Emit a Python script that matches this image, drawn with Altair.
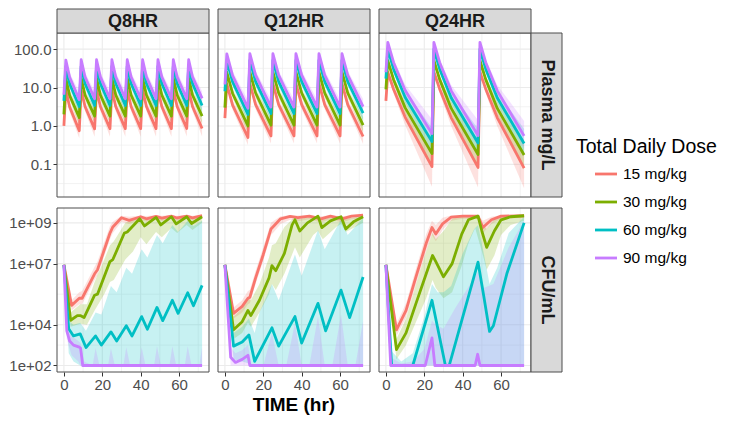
import altair as alt
import pandas as pd

FONT = "Liberation Sans"
DOSES = ["15 mg/kg", "30 mg/kg", "60 mg/kg", "90 mg/kg"]
COLORS = ["#F8766D", "#7CAE00", "#00BFC4", "#C77CFF"]
REGIMENS = ["Q8HR", "Q12HR", "Q24HR"]
ROW_LABELS = ["Plasma mg/L", "CFU/mL"]
X_TITLE = "TIME (hr)"
LEGEND_TITLE = "Total Daily Dose"

X_DOMAIN = [-3.6, 75.6]
X_BREAKS = [0, 20, 40, 60]
X_MINOR = [10, 30, 50, 70]
PK_DOMAIN = [0.0141, 263.0]
PK_BREAKS = [0.1, 1, 10, 100]
PK_MINOR = [0.0316, 0.316, 3.16, 31.6]
CFU_DOMAIN_LOG10 = [1.68, 9.73]
CFU_BREAKS_LOG10 = [2, 4, 7, 9]
CFU_MINOR_LOG10 = [3, 5.5, 8]

# ---------------- Plasma concentrations (mg/L) ----------------
PK_T_Q8 = [0, 1, 3, 8, 9, 11, 16, 17, 19, 24, 25, 27, 32, 33, 35, 40, 41, 43,
           48, 49, 51, 56, 57, 59, 64, 65, 67, 72]
PK_Q8_15 = [1.0, 8.7, 3.1, 0.75, 8.8, 3.2, 0.84, 8.8, 3.2, 0.85, 8.8, 3.2, 0.85, 8.8, 3.2, 0.85,
            8.8, 3.2, 0.85, 8.8, 3.2, 0.85, 8.8, 3.2, 0.86, 8.8, 3.2, 0.86]
PK_Q8_15_LO = [0.9, 7.4, 2.3, 0.48, 7.5, 2.4, 0.52, 7.5, 2.4, 0.52, 7.5, 2.4, 0.52, 7.5, 2.4, 0.52,
               7.5, 2.4, 0.52, 7.5, 2.4, 0.52, 7.5, 2.4, 0.53, 7.5, 2.4, 0.53]
PK_Q8_15_HI = [1.1, 10.2, 4.0, 1.3, 10.3, 4.1, 1.4, 10.3, 4.1, 1.4, 10.3, 4.1, 1.4, 10.3, 4.1, 1.4,
               10.3, 4.1, 1.4, 10.3, 4.1, 1.4, 10.3, 4.1, 1.4, 10.3, 4.1, 1.4]
PK_Q8_30 = [2.0, 17.3, 6.2, 1.65, 17.6, 6.4, 1.8, 17.6, 6.4, 1.8, 17.6, 6.4, 1.8, 17.6, 6.4, 1.8,
            17.6, 6.4, 1.8, 17.6, 6.4, 1.8, 17.6, 6.4, 1.8, 17.6, 6.4, 1.8]
PK_Q8_30_LO = [1.8, 14.8, 4.7, 1.05, 15.0, 4.8, 1.15, 15.0, 4.8, 1.15, 15.0, 4.8, 1.15, 15.0, 4.8, 1.15,
               15.0, 4.8, 1.15, 15.0, 4.8, 1.15, 15.0, 4.8, 1.15, 15.0, 4.8, 1.15]
PK_Q8_30_HI = [2.2, 20.3, 8.2, 2.7, 20.6, 8.4, 2.9, 20.6, 8.4, 2.9, 20.6, 8.4, 2.9, 20.6, 8.4, 2.9,
               20.6, 8.4, 2.9, 20.6, 8.4, 2.9, 20.6, 8.4, 2.9, 20.6, 8.4, 2.9]
PK_Q8_60 = [4.5, 35.0, 12.4, 3.2, 35.5, 12.7, 3.4, 35.5, 12.7, 3.4, 35.5, 12.7, 3.4, 35.5, 12.7, 3.4,
            35.5, 12.7, 3.4, 35.5, 12.7, 3.4, 35.5, 12.7, 3.4, 35.5, 12.7, 3.4]
PK_Q8_60_LO = [4.0, 30.0, 9.4, 2.1, 30.5, 9.6, 2.2, 30.5, 9.6, 2.2, 30.5, 9.6, 2.2, 30.5, 9.6, 2.2,
               30.5, 9.6, 2.2, 30.5, 9.6, 2.2, 30.5, 9.6, 2.2, 30.5, 9.6, 2.2]
PK_Q8_60_HI = [5.0, 41.0, 16.0, 5.0, 41.5, 16.4, 5.3, 41.5, 16.4, 5.3, 41.5, 16.4, 5.3, 41.5, 16.4, 5.3,
               41.5, 16.4, 5.3, 41.5, 16.4, 5.3, 41.5, 16.4, 5.3, 41.5, 16.4, 5.3]
PK_Q8_90 = [6.5, 52.0, 18.5, 4.8, 53.0, 19.0, 5.1, 53.0, 19.0, 5.1, 53.0, 19.0, 5.1, 53.0, 19.0, 5.1,
            53.0, 19.0, 5.1, 53.0, 19.0, 5.1, 53.0, 19.0, 5.1, 53.0, 19.0, 5.2]
PK_Q8_90_LO = [5.8, 45.0, 14.0, 3.1, 46.0, 14.4, 3.3, 46.0, 14.4, 3.3, 46.0, 14.4, 3.3, 46.0, 14.4, 3.3,
               46.0, 14.4, 3.3, 46.0, 14.4, 3.3, 46.0, 14.4, 3.3, 46.0, 14.4, 3.3]
PK_Q8_90_HI = [7.2, 60.0, 24.0, 7.6, 61.0, 24.5, 8.0, 61.0, 24.5, 8.0, 61.0, 24.5, 8.0, 61.0, 24.5, 8.0,
               61.0, 24.5, 8.0, 61.0, 24.5, 8.0, 61.0, 24.5, 8.0, 61.0, 24.5, 8.0]

PK_T_Q12 = [0, 1, 4, 12, 13, 16, 24, 25, 28, 36, 37, 40, 48, 49, 52, 60, 61, 64, 72]
PK_Q12_15 = [1.6, 12.5, 3.5, 0.5, 12.8, 3.6, 0.55, 12.8, 3.6, 0.55, 12.8, 3.6, 0.55, 12.8, 3.6, 0.55, 12.8, 3.6, 0.53]
PK_Q12_15_LO = [1.4, 10.6, 2.6, 0.32, 10.9, 2.7, 0.35, 10.9, 2.7, 0.35, 10.9, 2.7, 0.35, 10.9, 2.7, 0.35, 10.9, 2.7, 0.34]
PK_Q12_15_HI = [1.8, 14.5, 4.6, 0.85, 14.8, 4.7, 0.9, 14.8, 4.7, 0.9, 14.8, 4.7, 0.9, 14.8, 4.7, 0.9, 14.8, 4.7, 0.88]
PK_Q12_30 = [3.0, 25.0, 7.0, 1.0, 25.5, 7.2, 1.05, 25.5, 7.2, 1.05, 25.5, 7.2, 1.05, 25.5, 7.2, 1.05, 25.5, 7.2, 1.05]
PK_Q12_30_LO = [2.7, 21.5, 5.3, 0.65, 22.0, 5.4, 0.68, 22.0, 5.4, 0.68, 22.0, 5.4, 0.68, 22.0, 5.4, 0.68, 22.0, 5.4, 0.68]
PK_Q12_30_HI = [3.3, 29.0, 9.2, 1.6, 29.5, 9.4, 1.7, 29.5, 9.4, 1.7, 29.5, 9.4, 1.7, 29.5, 9.4, 1.7, 29.5, 9.4, 1.7]
PK_Q12_60 = [8.0, 50.0, 14.0, 2.0, 51.0, 14.3, 2.1, 51.0, 14.3, 2.1, 51.0, 14.3, 2.1, 51.0, 14.3, 2.1, 51.0, 14.3, 2.15]
PK_Q12_60_LO = [7.2, 43.0, 10.6, 1.3, 44.0, 10.8, 1.35, 44.0, 10.8, 1.35, 44.0, 10.8, 1.35, 44.0, 10.8, 1.35, 44.0, 10.8, 1.38]
PK_Q12_60_HI = [8.8, 58.0, 18.5, 3.2, 59.0, 18.8, 3.35, 59.0, 18.8, 3.35, 59.0, 18.8, 3.35, 59.0, 18.8, 3.35, 59.0, 18.8, 3.4]
PK_Q12_90 = [12.0, 75.0, 20.5, 2.9, 76.0, 21.0, 3.1, 76.0, 21.0, 3.1, 76.0, 21.0, 3.1, 76.0, 21.0, 3.1, 76.0, 21.0, 3.2]
PK_Q12_90_LO = [10.8, 65.0, 15.5, 1.9, 66.0, 16.0, 2.0, 66.0, 16.0, 2.0, 66.0, 16.0, 2.0, 66.0, 16.0, 2.0, 66.0, 16.0, 2.05]
PK_Q12_90_HI = [13.2, 87.0, 27.0, 4.6, 88.0, 27.5, 4.9, 88.0, 27.5, 4.9, 88.0, 27.5, 4.9, 88.0, 27.5, 4.9, 88.0, 27.5, 5.0]

PK_T_Q24 = [0, 1, 4, 10, 24, 25, 28, 34, 48, 49, 52, 58, 72]
PK_Q24_15 = [4.5, 25.0, 9.0, 1.7, 0.087, 25.5, 9.2, 1.65, 0.083, 25.5, 9.2, 1.65, 0.08]
PK_Q24_15_LO = [4.0, 21.0, 7.0, 1.05, 0.026, 21.5, 7.2, 1.0, 0.025, 21.5, 7.2, 1.0, 0.024]
PK_Q24_15_HI = [5.0, 29.0, 11.5, 2.6, 0.22, 29.5, 11.7, 2.55, 0.21, 29.5, 11.7, 2.55, 0.2]
PK_Q24_30 = [9.0, 50.0, 16.0, 3.0, 0.19, 50.5, 16.3, 2.9, 0.18, 50.5, 16.3, 2.9, 0.175]
PK_Q24_30_LO = [8.1, 43.0, 12.5, 2.0, 0.08, 43.5, 12.8, 1.95, 0.075, 43.5, 12.8, 1.95, 0.072]
PK_Q24_30_HI = [9.9, 57.0, 20.0, 4.5, 0.45, 57.5, 20.4, 4.4, 0.43, 57.5, 20.4, 4.4, 0.42]
PK_Q24_60 = [17.0, 100.0, 30.0, 5.6, 0.39, 100.0, 30.5, 5.4, 0.36, 100.0, 30.5, 5.4, 0.35]
PK_Q24_60_LO = [15.3, 88.0, 24.0, 4.0, 0.18, 88.0, 24.4, 3.8, 0.17, 88.0, 24.4, 3.8, 0.165]
PK_Q24_60_HI = [18.7, 112.0, 37.0, 8.0, 0.9, 112.0, 37.5, 7.7, 0.85, 112.0, 37.5, 7.7, 0.83]
PK_Q24_90 = [25.0, 150.0, 45.0, 8.5, 0.63, 150.0, 45.0, 8.3, 0.56, 150.0, 45.0, 8.3, 0.55]
PK_Q24_90_LO = [22.5, 135.0, 37.0, 6.0, 0.3, 135.0, 37.0, 5.8, 0.27, 135.0, 37.0, 5.8, 0.26]
PK_Q24_90_HI = [27.5, 165.0, 55.0, 12.0, 1.5, 165.0, 55.0, 11.7, 1.4, 165.0, 55.0, 11.7, 1.35]

# ---------------- Bacterial counts, log10 CFU/mL: (time, value) and (time, low, high) ----------------
CFU_Q8_15 = [(0, 6.94), (4, 4.95), (8, 5.3), (9.5, 5.3), (16, 6.5), (17.5, 6.7), (24, 8.5), (25.5, 8.8),
             (30, 9.25), (34, 9.12), (40, 9.3), (43, 9.2), (48, 9.32), (51, 9.23), (56, 9.33), (59, 9.24),
             (64, 9.33), (67, 9.25), (72, 9.35)]
CFU_Q8_15_PI = [(0, 6.94, 6.94), (4, 4.7, 5.2), (8, 5.0, 5.6), (9.5, 5.0, 5.65), (16, 6.2, 6.85), (17.5, 6.4, 7.1),
                (24, 8.2, 8.85), (25.5, 8.5, 9.05), (30, 9.05, 9.35), (34, 8.95, 9.3), (40, 9.15, 9.36),
                (43, 9.05, 9.34), (48, 9.18, 9.37), (51, 9.08, 9.35), (56, 9.2, 9.37), (59, 9.1, 9.35),
                (64, 9.2, 9.37), (67, 9.1, 9.35), (72, 9.22, 9.38)]
CFU_Q8_30 = [(0, 6.94), (3.5, 4.22), (7, 4.45), (8.5, 4.45), (10.5, 4.35), (16, 5.45), (17.5, 5.5), (24, 7.1),
             (25.5, 7.2), (31.5, 8.5), (33, 8.55), (39.5, 9.2), (42, 8.85), (48, 9.27), (50.5, 8.9), (56, 9.3),
             (58.5, 8.95), (64, 9.3), (66.5, 8.97), (72, 9.3)]
CFU_Q8_30_PI = [(0, 6.94, 6.94), (3.5, 3.9, 4.6), (8.5, 4.05, 5.0), (12, 4.0, 5.0), (16, 4.7, 6.1), (21, 5.5, 7.2),
                (24, 6.1, 7.9), (26, 6.2, 8.1), (32, 7.2, 9.0), (36, 7.6, 9.15), (40, 8.3, 9.3), (43, 7.95, 9.2),
                (48, 8.55, 9.33), (51, 8.3, 9.25), (56, 8.75, 9.35), (59, 8.5, 9.27), (64, 8.9, 9.35),
                (67, 8.65, 9.28), (72, 9.0, 9.36)]
CFU_Q8_60 = [(0, 6.94), (2.5, 3.8), (5, 3.45), (8.5, 3.55), (11.5, 2.88), (16.5, 3.45), (19.5, 3.0), (24.5, 3.65),
             (27.5, 3.2), (32.5, 3.95), (35.5, 3.45), (40.5, 4.4), (43.5, 3.78), (48.5, 4.85), (51.5, 4.2),
             (56.5, 5.2), (59.5, 4.56), (64.5, 5.57), (67.5, 4.93), (72, 5.93)]
CFU_Q8_60_PI = [(0, 6.94, 6.94), (2.5, 2.6, 4.2), (5, 2.2, 4.0), (8.5, 2.0, 4.1), (11.5, 2.0, 3.7), (16.5, 2.0, 4.6),
                (19.5, 2.0, 4.5), (24.5, 2.0, 5.9), (27.5, 2.0, 5.6), (32.5, 2.0, 6.8), (35.5, 2.0, 6.5),
                (40.5, 2.0, 7.7), (43.5, 2.0, 7.3), (48.5, 2.0, 8.4), (51.5, 2.0, 8.0), (56.5, 2.0, 8.9),
                (59.5, 2.0, 8.55), (64.5, 2.0, 9.1), (67.5, 2.0, 8.85), (72, 2.0, 9.1)]
CFU_Q8_90 = [(0, 6.94), (1.5, 3.7), (3, 3.2), (5, 3.0), (8, 2.9), (8.7, 2.85), (9.8, 2.0), (72, 2.0)]
CFU_Q8_90_PI = [(0, 6.94, 6.94), (1.5, 3.3, 3.9), (4, 2.5, 3.45), (7.5, 2.2, 3.2), (8.7, 2.0, 3.1), (10.5, 2.0, 2.2),
                (15, 2.0, 2.0), (16.5, 2.0, 2.85), (18.5, 2.0, 2.0), (23, 2.0, 2.0), (24.5, 2.0, 2.85),
                (26.5, 2.0, 2.0), (31, 2.0, 2.0), (32.5, 2.0, 2.9), (34.5, 2.0, 2.0), (39, 2.0, 2.0),
                (40.5, 2.0, 2.9), (42.5, 2.0, 2.0), (47, 2.0, 2.0), (48.5, 2.0, 2.95), (50.5, 2.0, 2.0),
                (55, 2.0, 2.0), (56.5, 2.0, 2.95), (58.5, 2.0, 2.0), (63, 2.0, 2.0), (64.5, 2.0, 2.95),
                (66.5, 2.0, 2.0), (70.5, 2.0, 2.0), (72, 2.0, 2.9)]

CFU_Q12_15 = [(0, 6.94), (4.5, 4.56), (9, 4.9), (12, 5.3), (13, 5.35), (16, 6.3), (20, 7.45), (24, 8.7),
              (25.5, 8.85), (29, 9.2), (34, 9.32), (38, 9.26), (44, 9.33), (50, 9.2), (55, 9.33), (61, 9.2),
              (66, 9.33), (72, 9.38)]
CFU_Q12_15_PI = [(0, 6.94, 6.94), (4.5, 4.3, 4.85), (9, 4.6, 5.2), (12, 5.0, 5.65), (13, 5.05, 5.7), (16, 6.0, 6.65),
                 (20, 7.15, 7.8), (24, 8.4, 9.0), (25.5, 8.55, 9.1), (29, 8.95, 9.33), (34, 9.15, 9.37),
                 (38, 9.08, 9.36), (44, 9.18, 9.37), (50, 9.02, 9.33), (55, 9.18, 9.37), (61, 9.02, 9.33),
                 (66, 9.18, 9.37), (72, 9.22, 9.38)]
CFU_Q12_30 = [(0, 6.94), (4.5, 3.75), (9, 4.15), (12, 4.7), (13.5, 4.45), (18, 5.2), (23, 6.3), (24.5, 6.9),
              (26.5, 6.65), (31, 7.5), (35, 8.9), (36.5, 9.15), (39, 8.6), (43, 9.0), (48.5, 9.33), (50.5, 8.77),
              (55, 9.1), (60.5, 9.3), (63, 8.7), (67, 9.05), (72, 9.3)]
CFU_Q12_30_PI = [(0, 6.94, 6.94), (4.5, 3.3, 4.4), (9, 3.6, 4.8), (12, 4.1, 5.3), (13.5, 3.9, 5.2), (18, 4.6, 6.0),
                 (23, 5.5, 7.3), (24.5, 6.0, 7.9), (26.5, 5.7, 8.0), (31, 6.5, 8.8), (36.5, 7.8, 9.3),
                 (39, 7.3, 9.2), (46, 8.4, 9.3), (48.5, 8.6, 9.35), (51, 8.2, 9.2), (58, 8.8, 9.3),
                 (60.5, 8.95, 9.35), (63, 8.55, 9.2), (72, 9.0, 9.35)]
CFU_Q12_60 = [(0, 6.94), (4.5, 2.95), (9, 3.15), (12.5, 3.5), (15.5, 2.2), (24.5, 3.85), (28, 2.95), (36.5, 4.4),
              (40, 3.1), (48.5, 5.05), (52.5, 3.7), (60.5, 5.7), (65, 4.35), (72, 6.34)]
CFU_Q12_60_PI = [(0, 6.94, 6.94), (4.5, 2.3, 3.6), (9, 2.2, 3.9), (12.5, 2.1, 4.3), (15.5, 2.0, 3.6), (18, 2.0, 4.6),
                 (24.5, 2.0, 6.0), (28, 2.0, 5.2), (36.5, 2.0, 7.45), (40, 2.0, 6.4), (48.5, 2.0, 8.65),
                 (52, 2.0, 7.7), (60.5, 2.0, 9.17), (64, 2.0, 8.4), (72, 2.0, 9.25)]
CFU_Q12_90 = [(0, 6.94), (3, 2.4), (5.5, 2.15), (9, 2.3), (12, 2.5), (13, 2.0), (72, 2.0)]
CFU_Q12_90_PI = [(0, 6.94, 6.94), (3, 2.0, 2.9), (5.5, 2.0, 2.6), (9, 2.0, 2.75), (12, 2.0, 3.0), (14, 2.0, 2.0),
                 (20, 2.0, 2.0), (24.5, 2.0, 3.6), (28, 2.0, 2.0), (32, 2.0, 2.0), (36.5, 2.0, 4.1),
                 (40, 2.0, 2.0), (44, 2.0, 2.0), (48.5, 2.0, 4.4), (52, 2.0, 2.0), (56, 2.0, 2.0),
                 (60.5, 2.0, 4.5), (64, 2.0, 2.0), (68, 2.0, 2.0), (72, 2.0, 4.2)]

CFU_Q24_15 = [(0, 6.94), (5.5, 3.75), (10.5, 4.7), (15.5, 6.3), (21, 8.0), (24, 8.77), (26, 8.45), (29.5, 8.95),
              (34, 9.28), (40, 9.33), (48, 9.33), (50.5, 8.77), (55, 9.15), (60, 9.33), (72, 9.35)]
CFU_Q24_15_PI = [(0, 6.94, 6.94), (5.5, 3.45, 4.05), (10.5, 4.35, 5.05), (15.5, 5.9, 6.7), (21, 7.6, 8.45),
                 (24, 8.4, 9.1), (26, 8.1, 8.9), (29.5, 8.65, 9.25), (34, 9.1, 9.36), (40, 9.2, 9.37),
                 (48, 9.2, 9.37), (50.5, 8.5, 9.1), (55, 8.95, 9.3), (60, 9.2, 9.37), (72, 9.25, 9.38)]
CFU_Q24_30 = [(0, 6.94), (5.5, 2.78), (10.5, 3.6), (15.5, 5.0), (21, 6.5), (24.3, 7.4), (26, 7.1), (30, 6.35),
              (34.5, 7.0), (39.5, 8.45), (43, 9.15), (48, 9.33), (50, 8.6), (52.5, 7.8), (56.5, 8.6), (60, 9.15),
              (65, 9.3), (72, 9.35)]
CFU_Q24_30_PI = [(0, 6.94, 6.94), (5.5, 2.3, 3.3), (10.5, 3.0, 4.3), (15.5, 4.1, 5.9), (21, 5.3, 7.6),
                 (24.3, 6.2, 8.5), (26, 5.8, 8.2), (30, 5.3, 8.6), (34.5, 5.6, 9.2), (39.5, 6.9, 9.33),
                 (43, 8.0, 9.35), (46.5, 8.75, 9.35), (50, 7.6, 9.0), (52.5, 6.7, 8.7), (56.5, 7.4, 9.2),
                 (60, 8.4, 9.33), (65, 8.9, 9.35), (72, 9.1, 9.36)]
CFU_Q24_60 = [(0, 6.94), (3, 2.0), (14, 2.0), (24, 5.2), (31, 2.0), (33, 2.0), (48, 7.07), (51, 5.4), (54, 3.67),
              (56, 3.95), (63, 6.5), (72, 9.0)]
CFU_Q24_60_PI = [(0, 6.94, 6.94), (3, 2.0, 2.7), (8, 2.0, 2.2), (14, 2.0, 2.6), (20, 2.0, 4.4), (24, 2.0, 6.0),
                 (27, 2.0, 5.6), (30, 2.0, 5.6), (34, 2.0, 5.9), (40, 2.0, 7.5), (46, 2.0, 8.7), (48, 2.0, 8.9),
                 (51, 2.0, 7.5), (54, 2.0, 6.0), (58, 2.0, 6.8), (64, 2.0, 8.5), (72, 2.0, 9.3)]
CFU_Q24_90 = [(0, 6.94), (2.5, 2.0), (20.5, 2.0), (24, 3.35), (25.5, 2.0), (46.5, 2.0), (47.8, 2.55), (49, 2.0),
              (72, 2.0)]
CFU_Q24_90_PI = [(0, 6.94, 6.94), (2.5, 2.0, 2.4), (8, 2.0, 2.1), (14, 2.0, 2.2), (20, 2.0, 2.8), (24, 2.0, 4.2),
                 (26, 2.0, 4.0), (30, 2.0, 3.8), (36, 2.0, 4.8), (44, 2.0, 6.0), (48, 2.0, 6.6), (51, 2.0, 5.8),
                 (56, 2.0, 6.0), (64, 2.0, 7.8), (72, 2.0, 9.1)]

# ---------------- styling ----------------
W = 152
H = 164
GRID = "#EBEBEB"
BORDER = "#4D4D4D"
STRIP_FILL = "#D9D9D9"
TEXT = "#1A1A1A"
AXIS_TEXT = "#4D4D4D"


def pk_tables(t, meds, los, his):
    lrows, brows = [], []
    for dose, m, lo, hi in zip(DOSES, meds, los, his):
        for ti, mi, li, hii in zip(t, m, lo, hi):
            lrows.append({"t": ti, "v": mi, "dose": dose})
            brows.append({"t": ti, "lo": li, "hi": hii, "dose": dose})
    return pd.DataFrame(lrows), pd.DataFrame(brows)


def cfu_tables(lines, bands):
    lrows, brows = [], []
    for dose, pts in zip(DOSES, lines):
        for ti, v in pts:
            lrows.append({"t": ti, "v": 10 ** v, "dose": dose})
    for dose, pts in zip(DOSES, bands):
        for ti, lo, hi in pts:
            brows.append({"t": ti, "lo": 10 ** lo, "hi": 10 ** hi, "dose": dose})
    return pd.DataFrame(lrows), pd.DataFrame(brows)


def panel(lines_df, bands_df, ydomain, major, minor, axis_y, axis_x, top_label=None, right_label=None, x_title=False):
    xs = alt.Scale(domain=X_DOMAIN, nice=False, zero=False)
    ys = alt.Scale(type="log", domain=ydomain, nice=False)
    cs = alt.Scale(domain=DOSES, range=COLORS)

    def X(f):
        return alt.X(f, scale=xs, axis=axis_x)

    def Y(f):
        return alt.Y(f, scale=ys, axis=axis_y)

    L = []
    L.append(alt.Chart(pd.DataFrame({"g": X_MINOR})).mark_rule(color=GRID, strokeWidth=0.6).encode(x=X("g:Q")))
    L.append(alt.Chart(pd.DataFrame({"g": minor})).mark_rule(color=GRID, strokeWidth=0.6).encode(y=Y("g:Q")))
    L.append(alt.Chart(pd.DataFrame({"g": X_BREAKS})).mark_rule(color=GRID, strokeWidth=1.1).encode(x=X("g:Q")))
    L.append(alt.Chart(pd.DataFrame({"g": major})).mark_rule(color=GRID, strokeWidth=1.1).encode(y=Y("g:Q")))
    for d in DOSES:
        L.append(alt.Chart(bands_df[bands_df["dose"] == d]).mark_area(opacity=0.22)
                 .encode(x=X("t:Q"), y=Y("lo:Q"), y2="hi:Q",
                         color=alt.Color("dose:N", scale=cs, legend=None)))
    for d in DOSES:
        L.append(alt.Chart(lines_df[lines_df["dose"] == d]).mark_line(strokeWidth=2.8, strokeJoin="round")
                 .encode(x=X("t:Q"), y=Y("v:Q"), color=alt.Color("dose:N", scale=cs, legend=None)))
    frame = pd.DataFrame({"label": [""]})
    L.append(alt.Chart(frame).mark_rect(fillOpacity=0, stroke=BORDER, strokeWidth=1)
             .encode(x=alt.value(0), x2=alt.value(W), y=alt.value(0), y2=alt.value(H)))
    if top_label:
        s = pd.DataFrame({"label": [top_label]})
        L.append(alt.Chart(s).mark_rect(fill=STRIP_FILL, stroke=BORDER, strokeWidth=1)
                 .encode(x=alt.value(0), x2=alt.value(W), y=alt.value(-24), y2=alt.value(0)))
        L.append(alt.Chart(s).mark_text(font=FONT, fontSize=18, fontWeight="bold", color=TEXT, baseline="middle")
                 .encode(x=alt.value(W / 2), y=alt.value(-11.5), text="label:N"))
    if right_label:
        s = pd.DataFrame({"label": [right_label]})
        L.append(alt.Chart(s).mark_rect(fill=STRIP_FILL, stroke=BORDER, strokeWidth=1)
                 .encode(x=alt.value(W), x2=alt.value(W + 31), y=alt.value(0), y2=alt.value(H)))
        L.append(alt.Chart(s).mark_text(font=FONT, fontSize=18, fontWeight="bold", color=TEXT, angle=90,
                                        baseline="middle", align="center")
                 .encode(x=alt.value(W + 16), y=alt.value(H / 2), text="label:N"))
    if x_title:
        s = pd.DataFrame({"label": [X_TITLE]})
        L.append(alt.Chart(s).mark_text(font=FONT, fontSize=19, fontWeight="bold", color="#000000", baseline="middle")
                 .encode(x=alt.value(W / 2), y=alt.value(H + 33), text="label:N"))
    return alt.layer(*L).properties(width=W, height=H)


pk_axis = alt.Axis(values=PK_BREAKS, format=".1f", grid=False, domain=False, ticks=True, tickSize=4,
                   tickColor="#333333", labelFont=FONT, labelFontSize=15, labelColor=AXIS_TEXT,
                   labelPadding=2, title=None)
cfu_axis = alt.Axis(values=[10 ** v for v in CFU_BREAKS_LOG10],
                    labelExpr="replace(format(datum.value, '.0e'), '+', '+0')",
                    grid=False, domain=False, ticks=True, tickSize=4, tickColor="#333333",
                    labelFont=FONT, labelFontSize=15, labelColor=AXIS_TEXT, labelPadding=2, title=None)
x_axis = alt.Axis(values=X_BREAKS, grid=False, domain=False, ticks=True, tickSize=4, tickColor="#333333",
                  labelFont=FONT, labelFontSize=15, labelColor=AXIS_TEXT, labelPadding=1, title=None)

PK_SETS = [
    (PK_T_Q8, [PK_Q8_15, PK_Q8_30, PK_Q8_60, PK_Q8_90], [PK_Q8_15_LO, PK_Q8_30_LO, PK_Q8_60_LO, PK_Q8_90_LO],
     [PK_Q8_15_HI, PK_Q8_30_HI, PK_Q8_60_HI, PK_Q8_90_HI]),
    (PK_T_Q12, [PK_Q12_15, PK_Q12_30, PK_Q12_60, PK_Q12_90], [PK_Q12_15_LO, PK_Q12_30_LO, PK_Q12_60_LO, PK_Q12_90_LO],
     [PK_Q12_15_HI, PK_Q12_30_HI, PK_Q12_60_HI, PK_Q12_90_HI]),
    (PK_T_Q24, [PK_Q24_15, PK_Q24_30, PK_Q24_60, PK_Q24_90], [PK_Q24_15_LO, PK_Q24_30_LO, PK_Q24_60_LO, PK_Q24_90_LO],
     [PK_Q24_15_HI, PK_Q24_30_HI, PK_Q24_60_HI, PK_Q24_90_HI]),
]
CFU_SETS = [
    ([CFU_Q8_15, CFU_Q8_30, CFU_Q8_60, CFU_Q8_90], [CFU_Q8_15_PI, CFU_Q8_30_PI, CFU_Q8_60_PI, CFU_Q8_90_PI]),
    ([CFU_Q12_15, CFU_Q12_30, CFU_Q12_60, CFU_Q12_90], [CFU_Q12_15_PI, CFU_Q12_30_PI, CFU_Q12_60_PI, CFU_Q12_90_PI]),
    ([CFU_Q24_15, CFU_Q24_30, CFU_Q24_60, CFU_Q24_90], [CFU_Q24_15_PI, CFU_Q24_30_PI, CFU_Q24_60_PI, CFU_Q24_90_PI]),
]

cfu_domain = [10 ** v for v in CFU_DOMAIN_LOG10]
cfu_major = [10 ** v for v in CFU_BREAKS_LOG10]
cfu_minor = [10 ** v for v in CFU_MINOR_LOG10]

top_panels, bot_panels = [], []
for i, reg in enumerate(REGIMENS):
    ldf, bdf = pk_tables(*PK_SETS[i])
    top_panels.append(panel(ldf, bdf, PK_DOMAIN, PK_BREAKS, PK_MINOR,
                            pk_axis if i == 0 else None, None,
                            top_label=reg, right_label=ROW_LABELS[0] if i == 2 else None))
    ldf, bdf = cfu_tables(*CFU_SETS[i])
    bot_panels.append(panel(ldf, bdf, cfu_domain, cfu_major, cfu_minor,
                            cfu_axis if i == 0 else None, x_axis,
                            right_label=ROW_LABELS[1] if i == 2 else None, x_title=(i == 1)))

# legend (drawn from the dose list through an ordinal scale)
leg_df = pd.DataFrame({"dose": DOSES})
ly = alt.Y("dose:N", scale=alt.Scale(domain=DOSES, range=[127, 239]), axis=None)
lc = alt.Color("dose:N", scale=alt.Scale(domain=DOSES, range=COLORS), legend=None)
legend = alt.layer(
    alt.Chart(pd.DataFrame({"label": [""]})).mark_rect(fillOpacity=0, strokeOpacity=0)
    .encode(x=alt.value(0), x2=alt.value(150), y=alt.value(-24), y2=alt.value(H)),
    alt.Chart(pd.DataFrame({"label": [LEGEND_TITLE]})).mark_text(font=FONT, fontSize=19.5, align="left",
                                                                 baseline="middle", color="#000000")
    .encode(x=alt.value(5), y=alt.value(114), text="label:N"),
    alt.Chart(leg_df).mark_rule(strokeWidth=2.8).encode(x=alt.value(24), x2=alt.value(46), y=ly, color=lc),
    alt.Chart(leg_df).mark_text(font=FONT, fontSize=15.5, align="left", baseline="middle", color="#000000")
    .encode(x=alt.value(52), y=ly, text="dose:N"),
).properties(width=150, height=H)

grid = alt.concat(*top_panels, *bot_panels, columns=3, spacing={"row": 11, "column": 9}, bounds="flush")
chart = (alt.hconcat(grid, legend, spacing=8)
         .properties(padding={"left": 0, "top": 0, "right": 0, "bottom": 0})
         .configure(font=FONT)
         .configure_view(stroke="transparent", strokeWidth=0))

chart.save("out.html", embed_options={"renderer": "svg", "actions": False})
